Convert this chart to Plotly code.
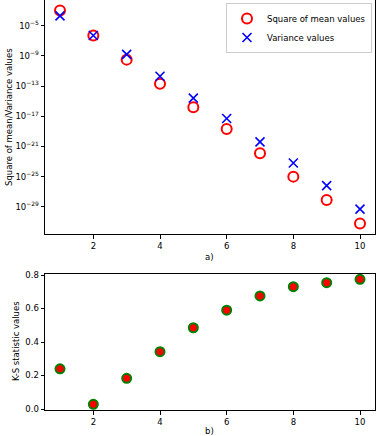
import plotly.graph_objects as go

# data
orders = [1, 2, 3, 4, 5, 6, 7, 8, 9, 10]
log_sq_mean = [-3.0, -6.3, -9.5, -12.7, -15.8, -18.7, -21.9, -25.0, -28.1, -31.2]
log_variance = [-3.7, -6.3, -8.8, -11.7, -14.6, -17.3, -20.4, -23.2, -26.2, -29.3]
ks_values = [0.24, 0.028, 0.183, 0.342, 0.485, 0.59, 0.675, 0.73, 0.754, 0.774]

sq_mean = [10 ** v for v in log_sq_mean]
variance = [10 ** v for v in log_variance]

log_ticks = [-5, -9, -13, -17, -21, -25, -29]
x_ticks = [2, 4, 6, 8, 10]

W, H = 378, 436
font = dict(family="DejaVu Sans", size=8.5, color="black")

fig = go.Figure()

fig.add_trace(go.Scatter(
    x=orders, y=sq_mean, mode="markers", name="Square of mean values",
    marker=dict(symbol="circle-open", size=10, color="red", line=dict(width=2, color="red")),
    xaxis="x", yaxis="y"))
fig.add_trace(go.Scatter(
    x=orders, y=variance, mode="markers", name="Variance values",
    marker=dict(symbol="x-thin-open", size=9, color="blue", line=dict(width=1.6, color="blue")),
    xaxis="x", yaxis="y"))
fig.add_trace(go.Scatter(
    x=orders, y=ks_values, mode="markers", showlegend=False,
    marker=dict(symbol="circle", size=9, color="red", line=dict(width=2, color="green")),
    xaxis="x2", yaxis="y2"))

axis_style = dict(showline=True, linecolor="black", linewidth=1, mirror=True,
                  ticks="outside", ticklen=3.5, tickwidth=1, tickcolor="black",
                  showgrid=False, zeroline=False, tickfont=font, automargin=False)

xdom = [45 / W, 375 / W]
fig.update_layout(
    width=W, height=H, margin=dict(l=0, r=0, t=0, b=0, autoexpand=False),
    paper_bgcolor="white", plot_bgcolor="white", font=font,
    xaxis=dict(domain=xdom, range=[0.55, 10.45], tickvals=x_ticks, anchor="y", **axis_style),
    yaxis=dict(domain=[1 - 234 / H, 1], type="log", range=[-32.6, -1.6],
               tickvals=[10 ** t for t in log_ticks],
               ticktext=["10<sup>\u2212%d</sup>" % -t for t in log_ticks],
               anchor="x", **axis_style),
    xaxis2=dict(domain=xdom, range=[0.55, 10.45], tickvals=x_ticks, anchor="y2", **axis_style),
    yaxis2=dict(domain=[1 - 410 / H, 1 - 274 / H], range=[-0.006, 0.806],
                tickvals=[0, 0.2, 0.4, 0.6, 0.8], tickformat=".1f", anchor="x2", **axis_style),
    legend=dict(x=372 / W, y=1 - 3 / H, xanchor="right", yanchor="top",
                bgcolor="white", bordercolor="#cccccc", borderwidth=1,
                font=dict(family="DejaVu Sans", size=8.5), tracegroupgap=0,
                itemwidth=30),
)

# axis labels and panel captions
fig.add_annotation(text="Square of mean/Variance values", x=9 / W, y=1 - 117 / H,
                   xref="paper", yref="paper", xanchor="center", yanchor="middle",
                   textangle=-90, showarrow=False, font=font)
fig.add_annotation(text="K-S statistic values", x=16 / W, y=1 - 341 / H,
                   xref="paper", yref="paper", xanchor="center", yanchor="middle",
                   textangle=-90, showarrow=False, font=font)
fig.add_annotation(text="a)", x=209 / W, y=1 - 257 / H, xref="paper", yref="paper",
                   xanchor="center", yanchor="middle", showarrow=False, font=font)
fig.add_annotation(text="b)", x=209 / W, y=1 - 431 / H, xref="paper", yref="paper",
                   xanchor="center", yanchor="middle", showarrow=False, font=font)

# drop the default page margin so the figure sits at the window's corner
fig.write_html("out.html", config={"displayModeBar": False},
               post_script="document.body.style.margin='0';")
